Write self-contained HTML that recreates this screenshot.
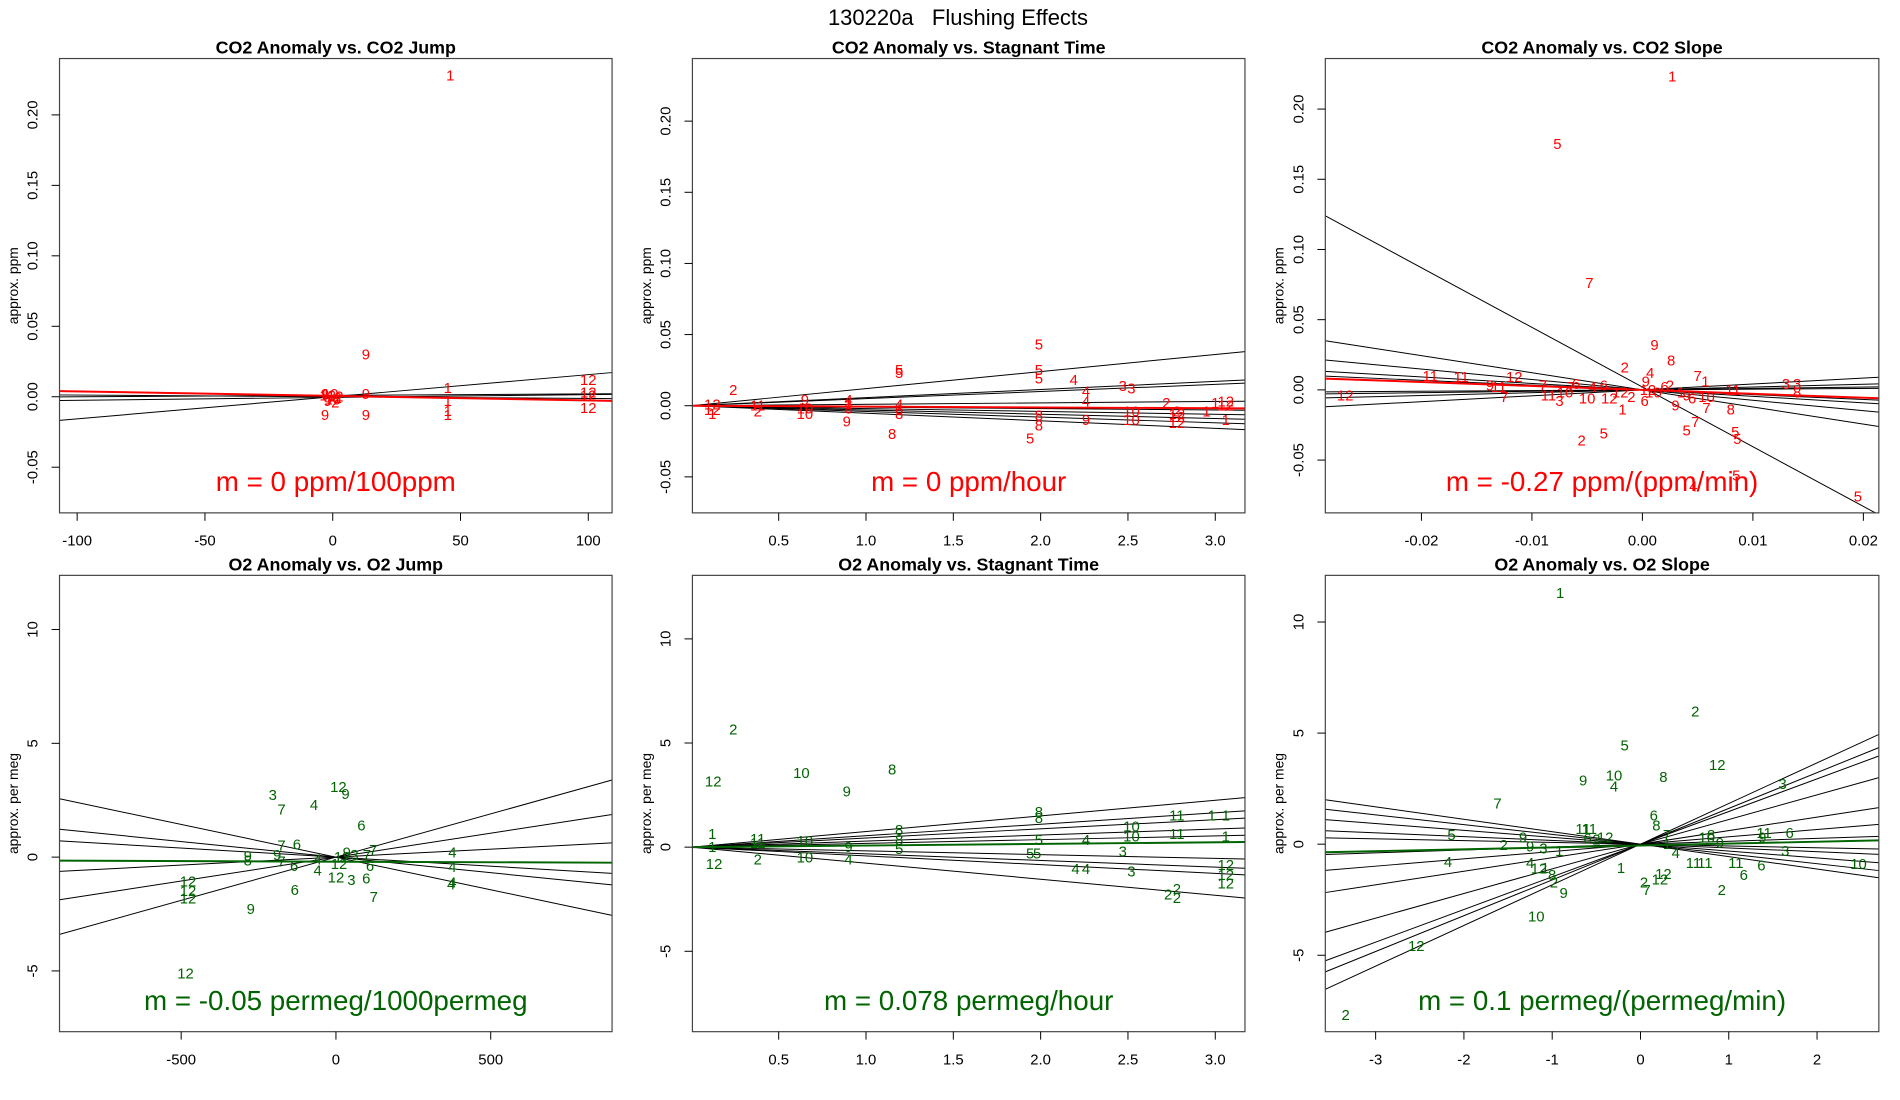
<!DOCTYPE html>
<html><head><meta charset="utf-8"><style>
html,body{margin:0;padding:0;background:#fff;}
svg{display:block;font-family:"Liberation Sans",sans-serif;}
</style></head><body>
<svg id="fig" width="1900" height="1100" viewBox="0 0 1900 1100" xmlns="http://www.w3.org/2000/svg">
<rect width="1900" height="1100" fill="#fff"/>
<text x="958" y="25" font-size="22" text-anchor="middle" style="white-space:pre" xml:space="preserve">130220a   Flushing Effects</text>
<g id="root" transform="scale(0.992)"></g>
</svg>
<script>
// ---- Panel 1: CO2 Anomaly vs CO2 Jump ----
const p1Labels=["1","9","1","1","1","9","9","12","12","12","12","9","10","12","2","9","10","2","12","9","1"];
const p1X=[46,13,45,45,45,13,-3,100,100,100,100,-3,-1,1,2,13,0,1,-2,-2,45];
const p1Y=[0.228,0.030,0.006,-0.003,-0.013,-0.013,-0.013,0.012,0.003,0.001,-0.008,0.002,0.002,0,-0.001,0.002,-0.002,-0.004,0.001,-0.003,-0.010];
const p1Slopes=[0.000157,0.00001,-0.000012,0.00002];
const p1Ints=[0,0.001,0,-0.0005];
const p1FitSlope=-0.000032, p1FitInt=0.0006;
const p1XTicks=[-100,-50,0,50,100];
const p1YTicks=[-0.05,0,0.05,0.10,0.15,0.20];
const p1YTickLabels=["-0.05","0.00","0.05","0.10","0.15","0.20"];

// ---- Panel 2: CO2 Anomaly vs Stagnant Time ----
const p2Labels=["5","5","5","5","5","4","3","3","2","2","1","1","12","12","4","4","8","5","9","9","8","8","10","10","12","12","1","12","12","1","11","2","10","9","4","8","1","6","8","4","10","12","2"];
const p2X=[1.99,1.99,1.99,1.19,1.19,2.19,2.47,2.52,0.24,2.72,3.0,2.95,3.06,3.06,2.26,2.26,1.15,1.94,0.89,2.26,1.99,1.99,2.52,2.52,2.78,2.78,3.06,0.12,0.12,0.12,0.38,0.38,0.65,0.65,0.9,0.9,0.9,1.19,1.19,1.19,0.65,2.78,2.78];
const p2Y=[0.043,0.025,0.019,0.025,0.023,0.018,0.014,0.012,0.011,0.002,0.002,-0.004,0.0,0.003,0.010,0.003,-0.020,-0.023,-0.011,-0.010,-0.007,-0.014,-0.004,-0.010,-0.008,-0.012,-0.010,0.001,-0.003,-0.006,0.0,-0.004,-0.002,0.004,0.004,-0.002,0.001,-0.003,-0.006,0.001,-0.006,-0.006,-0.004];
const p2Slopes=[0.012,0.0057,0.005,0.001,-0.001,-0.002,-0.003,-0.004,-0.0053];
const p2Ints=[0,0,0,0,0,0,0,0,0];
const p2FitSlope=-0.0006, p2FitInt=0.0;
const p2XTicks=[0.5,1.0,1.5,2.0,2.5,3.0];
const p2XTickLabels=["0.5","1.0","1.5","2.0","2.5","3.0"];
const p2YTicks=[-0.05,0,0.05,0.10,0.15,0.20];

// ---- Panel 3: CO2 Anomaly vs CO2 Slope ----
const p3Labels=["1","5","7","9","8","2","4","7","1","11","11","12","12","3","3","8","11","10","8","7","7","5","5","5","5","4","5","2","5","1","9","7","9","11","7","11","3","10","6","4","10","6","12","2","6","12","6","2","10","1","9","6","12","7","9"];
const p3X=[0.0027,-0.0077,-0.0048,0.0011,0.0026,-0.0016,0.0007,0.005,0.0057,-0.0192,-0.0164,-0.0116,-0.0269,0.013,0.014,0.014,0.0082,0.0058,0.008,0.0058,0.0048,0.004,0.0084,0.0086,0.0085,0.0046,0.0195,-0.0055,-0.0035,-0.0018,0.003,-0.0125,-0.0138,-0.013,-0.009,-0.0085,-0.0075,-0.007,-0.006,-0.0045,-0.005,-0.0035,-0.002,-0.001,0.0002,0.0005,0.002,0.0025,0.001,0.0035,0.004,0.0045,-0.003,-0.0065,0.0003];
const p3Y=[0.223,0.175,0.076,0.032,0.021,0.016,0.012,0.010,0.006,0.010,0.009,0.009,-0.004,0.004,0.004,-0.002,0.0,-0.005,-0.014,-0.013,-0.023,-0.029,-0.030,-0.035,-0.061,-0.069,-0.076,-0.036,-0.031,-0.014,-0.011,-0.005,0.003,0.002,0.003,-0.004,-0.008,-0.002,0.004,0.002,-0.006,0.003,-0.002,-0.005,-0.008,0.0,0.002,0.003,-0.002,-0.002,-0.004,-0.006,-0.006,0.002,0.006];
const p3Slopes=[-4.25,-1.22,-0.74,-0.46,-0.34,0.42,0.2,0.1,0.05];
const p3Ints=[0.002,0,0,0,0,0,0,0,0];
const p3FitSlope=-0.28, p3FitInt=0.0;
const p3XTicks=[-0.02,-0.01,0,0.01,0.02];
const p3XTickLabels=["-0.02","-0.01","0.00","0.01","0.02"];
const p3YTicks=[-0.05,0,0.05,0.10,0.15,0.20];

// ---- Panel 4: O2 Anomaly vs O2 Jump ----
const p4Labels=["3","7","4","12","9","6","12","12","12","9","6","7","12","4","4","4","4","12","3","6","7","6","9","9","8","7","6","4","4","12","9","3","7","7","12","6"];
const p4X=[-204,-176,-71,8,31,82,-478,-478,-478,-275,-133,122,-486,376,376,376,372,0,50,98,-176,-126,-190,-285,-285,-176,-135,-59,-59,20,35,60,120,100,10,110];
const p4Y=[2.72,2.08,2.29,3.09,2.77,1.38,-1.07,-1.49,-1.81,-2.29,-1.44,-1.76,-5.11,0.2,-0.43,-1.12,-1.2,-0.9,-1.0,-0.95,0.5,0.55,0.1,0.05,-0.15,-0.2,-0.4,-0.59,-0.1,0.0,0.2,0.1,0.3,0.1,-0.3,-0.4];
const p4Slopes=[-0.00287,-0.00137,-0.0008,0.0021,0.0038,0.0007];
const p4Ints=[0,0,0,0,0,0];
const p4FitSlope=-0.00005, p4FitInt=-0.2;
const p4XTicks=[-500,0,500];
const p4YTicks=[-5,0,5,10];

// ---- Panel 5: O2 Anomaly vs Stagnant Time ----
const p5Labels=["2","12","10","8","9","1","12","8","8","10","10","11","11","1","1","1","5","5","5","4","4","4","3","3","12","12","12","2","2","2","8","8","5","11","2","10","10","9","4","1","11"];
const p5X=[0.24,0.125,0.63,1.15,0.89,0.12,0.13,1.99,1.99,2.52,2.52,2.78,2.78,2.98,3.06,3.06,1.99,1.94,1.98,2.26,2.2,2.26,2.52,2.47,3.06,3.06,3.06,2.73,2.78,2.78,1.19,1.19,1.19,0.38,0.38,0.65,0.65,0.9,0.9,0.12,0.38];
const p5Y=[5.64,3.14,3.55,3.72,2.67,0.64,-0.81,1.69,1.4,0.99,0.52,1.51,0.64,1.51,1.51,0.5,0.35,-0.3,-0.3,0.35,-1.05,-1.05,-1.16,-0.2,-0.87,-1.34,-1.74,-2.27,-2.0,-2.44,0.81,0.35,-0.1,0.4,-0.6,0.3,-0.5,0.0,-0.6,0.0,0.2];
const p5Slopes=[0.75,0.55,0.44,0.29,0.18,-0.18,-0.32,-0.42,-0.77];
const p5Ints=[0,0,0,0,0,0,0,0,0];
const p5FitSlope=0.078, p5FitInt=0.0;
const p5XTicks=[0.5,1.0,1.5,2.0,2.5,3.0];
const p5YTicks=[-5,0,5,10];

// ---- Panel 6: O2 Anomaly vs O2 Slope ----
const p6Labels=["1","2","5","12","9","10","4","8","7","3","6","8","5","4","2","9","4","12","1","8","2","9","10","12","2","11","11","1","2","7","12","12","11","11","6","2","6","10","11","6","3","9","3","9","1","6","8","10","12","2","4","7","9","11","1"];
const p6X=[-0.91,0.62,-0.18,0.87,-0.65,-0.3,-0.3,0.26,-1.62,1.61,0.15,0.18,-2.14,-2.18,-1.55,-1.33,-1.25,-1.15,-1.08,-1.0,-0.98,-0.87,-1.18,-2.54,-3.34,-0.65,-0.58,-0.22,0.04,0.07,0.22,0.26,0.73,1.08,1.17,0.92,1.37,2.47,1.4,1.69,1.64,1.38,-1.1,-1.25,-0.92,-0.6,0.8,0.75,-0.4,-0.5,0.4,0.3,0.9,0.6,0.3];
const p6Y=[11.3,5.98,4.44,3.57,2.87,3.09,2.6,3.03,1.82,2.7,1.28,0.85,0.4,-0.8,-0.05,0.3,-0.85,-1.1,-1.07,-1.4,-1.73,-2.2,-3.26,-4.58,-7.7,0.68,0.68,-1.07,-1.73,-2.06,-1.6,-1.35,-0.85,-0.85,-1.4,-2.06,-0.96,-0.9,0.5,0.51,-0.3,0.3,-0.2,-0.1,-0.3,0.25,0.4,0.3,0.3,0.2,-0.4,0.4,0.05,-0.85,0.0];
const p6Slopes=[1.83,1.61,1.47,1.11,0.61,0.33,0.13,-0.17,-0.31,-0.44,-0.56,-0.08];
const p6Ints=[0,0,0,0,0,0,0,0,0,0,0,0];
const p6FitSlope=0.085, p6FitInt=-0.06;
const p6XTicks=[-3,-2,-1,0,1,2];
const p6YTicks=[-5,0,5,10];

const NS="http://www.w3.org/2000/svg";
const root=document.getElementById('root');
function mk(tag,attrs,parent){const e=document.createElementNS(NS,tag);for(const k in attrs)e.setAttribute(k,attrs[k]);(parent||root).appendChild(e);return e;}

function panel(cfg){
  const g=mk('g',{});
  
  
  const {x0,y0,x1,y1}=cfg.box;
  const sx=v=>x0+(v-cfg.xlim[0])/(cfg.xlim[1]-cfg.xlim[0])*(x1-x0);
  const sy=v=>y1-(v-cfg.ylim[0])/(cfg.ylim[1]-cfg.ylim[0])*(y1-y0);
  const cid='clip-'+cfg.name;
  const cp=mk('clipPath',{id:cid},g);
  mk('rect',{x:x0,y:y0,width:x1-x0,height:y1-y0},cp);
  const t=mk('text',{x:(x0+x1)/2,y:y0-5,'font-size':18,'font-weight':'bold','text-anchor':'middle'},g);
  t.textContent=cfg.title;
  
  
  const yl=mk('text',{x:0,y:0,'font-size':14,'text-anchor':'middle',transform:`translate(${x0-42},${(y0+y1)/2}) rotate(-90)`},g);
  yl.textContent=cfg.ylab;
  
  
  const lg=mk('g',{'clip-path':`url(#${cid})`},g);
  cfg.slopes.forEach((m,i)=>{
    const b=cfg.ints[i];
    const ln=mk('line',{x1:sx(cfg.xlim[0]),y1:sy(b+m*cfg.xlim[0]),x2:sx(cfg.xlim[1]),y2:sy(b+m*cfg.xlim[1]),stroke:'#000','stroke-width':1},lg);
    
    
  });
  const fl=mk('line',{x1:sx(cfg.xlim[0]),y1:sy(cfg.fitInt+cfg.fitSlope*cfg.xlim[0]),x2:sx(cfg.xlim[1]),y2:sy(cfg.fitInt+cfg.fitSlope*cfg.xlim[1]),stroke:cfg.color,'stroke-width':2},lg);
  
  
  cfg.labels.forEach((lab,i)=>{
    const p=mk('text',{x:sx(cfg.xs[i]),y:sy(cfg.ys[i])+5,'font-size':15,fill:cfg.color,'text-anchor':'middle'},lg);
    p.textContent=lab;
    
    
  });
  const mt=mk('text',{x:(x0+x1)/2,y:y1-22,'font-size':28,fill:cfg.color,'text-anchor':'middle'},g);
  mt.textContent=cfg.mtext;
  
  
  const bx=mk('rect',{x:x0,y:y0,width:x1-x0,height:y1-y0,fill:'none',stroke:'#444','stroke-width':1.2},g);
  
  
  cfg.xticks.forEach((v,i)=>{
    const X=sx(v);
    mk('line',{x1:X,y1:y1,x2:X,y2:y1+8,stroke:'#000'},g);
    const tl=mk('text',{x:X,y:y1+33,'font-size':15,'text-anchor':'middle'},g);
    tl.textContent=cfg.xtl?cfg.xtl[i]:String(v);
    
    
  });
  cfg.yticks.forEach((v,i)=>{
    const Y=sy(v);
    mk('line',{x1:x0-8,y1:Y,x2:x0,y2:Y,stroke:'#000'},g);
    const tl=mk('text',{x:0,y:0,'font-size':15,'text-anchor':'middle',transform:`translate(${x0-22},${Y}) rotate(-90)`},g);
    tl.textContent=cfg.ytl?cfg.ytl[i]:String(v);
    
    
  });
}
const topRow={y0:59,y1:517}, botRow={y0:580,y1:1040};
const c1={x0:60,x1:617}, c2={x0:698,x1:1255}, c3={x0:1336,x1:1894};
panel({name:'co2-jump-panel',box:{...c1,...topRow},xlim:[-106.9,109.3],ylim:[-0.0824,0.240],title:'CO2 Anomaly vs. CO2 Jump',ylab:'approx. ppm',
  labels:p1Labels,xs:p1X,ys:p1Y,slopes:p1Slopes,ints:p1Ints,fitSlope:p1FitSlope,fitInt:p1FitInt,color:'#ff0000',mtext:'m = 0 ppm/100ppm',
  xticks:p1XTicks,yticks:p1YTicks,ytl:p1YTickLabels});
panel({name:'co2-stagnant-panel',box:{...c2,...topRow},xlim:[0.006,3.17],ylim:[-0.0753,0.244],title:'CO2 Anomaly vs. Stagnant Time',ylab:'approx. ppm',
  labels:p2Labels,xs:p2X,ys:p2Y,slopes:p2Slopes,ints:p2Ints,fitSlope:p2FitSlope,fitInt:p2FitInt,color:'#ff0000',mtext:'m = 0 ppm/hour',
  xticks:p2XTicks,xtl:p2XTickLabels,yticks:p2YTicks,ytl:p1YTickLabels});
panel({name:'co2-slope-panel',box:{...c3,...topRow},xlim:[-0.0287,0.0214],ylim:[-0.0876,0.236],title:'CO2 Anomaly vs. CO2 Slope',ylab:'approx. ppm',
  labels:p3Labels,xs:p3X,ys:p3Y,slopes:p3Slopes,ints:p3Ints,fitSlope:p3FitSlope,fitInt:p3FitInt,color:'#ff0000',mtext:'m = -0.27 ppm/(ppm/min)',
  xticks:p3XTicks,xtl:p3XTickLabels,yticks:p3YTicks,ytl:p1YTickLabels});
panel({name:'o2-jump-panel',box:{...c1,...botRow},xlim:[-893,892],ylim:[-7.67,12.38],title:'O2 Anomaly vs. O2 Jump',ylab:'approx. per meg',
  labels:p4Labels,xs:p4X,ys:p4Y,slopes:p4Slopes,ints:p4Ints,fitSlope:p4FitSlope,fitInt:p4FitInt,color:'#006400',mtext:'m = -0.05 permeg/1000permeg',
  xticks:p4XTicks,yticks:p4YTicks});
panel({name:'o2-stagnant-panel',box:{...c2,...botRow},xlim:[0.006,3.17],ylim:[-8.86,13.05],title:'O2 Anomaly vs. Stagnant Time',ylab:'approx. per meg',
  labels:p5Labels,xs:p5X,ys:p5Y,slopes:p5Slopes,ints:p5Ints,fitSlope:p5FitSlope,fitInt:p5FitInt,color:'#006400',mtext:'m = 0.078 permeg/hour',
  xticks:p5XTicks,xtl:p2XTickLabels,yticks:p5YTicks});
panel({name:'o2-slope-panel',box:{...c3,...botRow},xlim:[-3.57,2.70],ylim:[-8.44,12.1],title:'O2 Anomaly vs. O2 Slope',ylab:'approx. per meg',
  labels:p6Labels,xs:p6X,ys:p6Y,slopes:p6Slopes,ints:p6Ints,fitSlope:p6FitSlope,fitInt:p6FitInt,color:'#006400',mtext:'m = 0.1 permeg/(permeg/min)',
  xticks:p6XTicks,yticks:p6YTicks});
</script>
</body></html>
